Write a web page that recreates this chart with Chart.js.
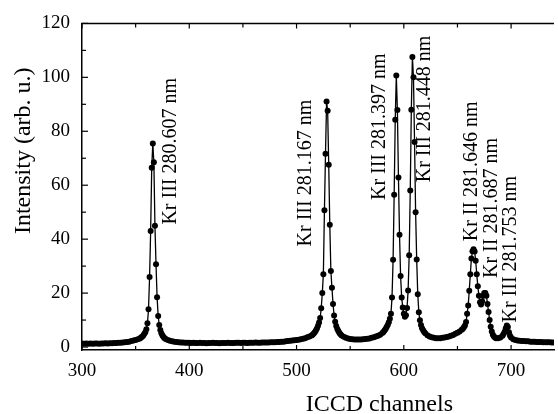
<!DOCTYPE html>
<html><head><meta charset="utf-8">
<script src="https://cdn.jsdelivr.net/npm/chart.js@4.4.1/dist/chart.umd.min.js"></script>
<style>html,body{margin:0;padding:0;background:#fff;}canvas{display:block;}</style>
</head><body>
<canvas id="c" width="558" height="414"></canvas>
<script>
const channels = [
  300,302,304,306,308,310,312,314,316,318,
  320,322,324,326,328,330,332,334,336,338,
  340,342,344,346,348,350,352,354,355,356,
  357,358,359,360,361,362,363,364,365,366,
  367,368,369,370,371,372,373,374,375,376,
  377,378,380,382,384,386,388,390,392,394,
  396,398,400,402,404,406,408,410,412,414,
  416,418,420,422,424,426,428,430,432,434,
  436,438,440,442,444,446,448,450,452,454,
  456,458,460,462,464,466,468,470,472,474,
  476,478,480,482,484,486,488,490,492,494,
  496,498,500,502,504,506,508,510,512,514,
  515,516,517,518,519,520,521,522,523,524,
  525,526,527,528,529,530,531,532,533,534,
  535,536,537,538,539,540,541,542,544,546,
  548,550,552,554,556,558,560,562,564,566,
  568,570,572,574,576,578,580,581,582,583,
  584,585,586,587,588,589,590,591,592,593,
  594,595,596,597,598,599,600,601,602,603,
  604,605,606,607,608,609,610,611,612,613,
  614,615,616,617,618,619,620,622,624,626,
  628,630,632,634,636,638,640,642,644,646,
  648,650,652,654,655,656,657,658,659,660,
  661,662,663,664,665,666,667,668,669,670,
  671,672,673,674,675,676,677,678,679,680,
  681,682,683,684,685,686,688,690,692,693,
  694,695,696,697,698,699,700,702,704,706,
  708,710,712,714,716,718,720,722,724,726,
  728,730,732,734,736,738,740
];
const intensity = [
  1.3,1.2,1.3,1.2,1.3,1.2,1.3,1.3,1.2,1.3,
  1.3,1.4,1.3,1.4,1.4,1.5,1.5,1.6,1.6,1.7,
  1.8,1.9,2.0,2.2,2.4,2.6,2.9,3.2,3.5,3.8,
  4.2,4.8,5.5,6.6,8.8,14,26,43,66.5,75.5,
  68.5,45,30.7,18.5,11.5,8.2,6.3,5.1,4.3,3.7,
  3.3,3.0,2.6,2.3,2.1,2.0,1.9,1.8,1.7,1.7,
  1.6,1.6,1.6,1.5,1.6,1.5,1.5,1.6,1.5,1.5,
  1.4,1.5,1.5,1.6,1.5,1.5,1.4,1.5,1.5,1.5,
  1.6,1.5,1.5,1.5,1.6,1.6,1.5,1.6,1.6,1.5,
  1.6,1.6,1.6,1.7,1.6,1.6,1.7,1.7,1.7,1.7,
  1.8,1.8,1.8,1.9,1.9,2.0,2.0,2.1,2.2,2.3,
  2.4,2.5,2.6,2.7,2.9,3.1,3.3,3.6,3.9,4.3,
  4.6,5.0,5.5,6.1,6.9,7.9,9.1,10.8,14.4,20,
  27,50.7,71.7,91,87.6,67.6,45.3,28.2,22,16,
  11.7,9.4,7.8,6.7,5.9,5.2,4.7,4.3,3.8,3.4,
  3.2,3.0,2.9,2.8,2.8,2.8,2.8,2.9,3.0,3.1,
  3.2,3.4,3.6,3.9,4.2,4.6,5.2,5.6,6.1,6.7,
  7.4,8.2,9.2,10.5,12.3,18.4,32.4,56.5,84.3,100.7,
  87.9,62.9,41.6,26.3,18.4,14.7,12.3,11.2,11.8,14.5,
  21,34,58,88,107.5,100,76,50,32.5,19.6,
  12.9,9.9,8.2,7.0,6.2,5.6,5.1,4.4,3.9,3.6,
  3.4,3.3,3.3,3.3,3.4,3.5,3.7,3.9,4.2,4.5,
  4.9,5.3,5.8,6.4,6.8,7.3,8.0,9.3,12.3,15.4,
  20.9,27,32.8,35.5,36.3,35.4,32,27,22.5,19,
  16.6,15.8,17,19,20,20,19,16,13,10,
  7.5,5.8,4.6,3.9,3.5,3.3,3.3,3.5,4.2,4.8,
  5.7,7.0,8.0,7.4,5.5,4.2,3.5,2.9,2.6,2.4,
  2.3,2.2,2.2,2.1,2.1,2.0,2.0,2.0,1.9,1.9,
  1.9,1.8,1.8,1.8,1.8,1.7,1.7
];
const xTickValues = [300,400,500,600,700];
const xMinorTicks = [350,450,550,650];
const yTickValues = [0,20,40,60,80,100,120];
const yMinorTicks = [10,30,50,70,90,110];
const lineLabels = [
  "Kr III 280.607 nm",
  "Kr III 281.167 nm",
  "Kr III 281.397 nm",
  "Kr III 281.448 nm",
  "Kr II 281.646 nm",
  "Kr II 281.687 nm",
  "Kr III 281.753 nm"
];
const xTitle = "ICCD channels";
const yTitle = "Intensity (arb. u.)";

// label anchor positions (in axis units), kept separate from the data
const labelAnchorX = [382.4, 509, 577.2, 619.7, 663.1, 681.6, 700];
const labelAnchorY = [45.4, 37.3, 54.5, 61.1, 39.2, 25.6, 9.1];

const SERIF = "'Liberation Serif', 'DejaVu Serif', serif";

const points = channels.map((c, i) => ({x: c, y: intensity[i]}));

const framePlugin = {
  id: 'frame',
  afterDraw(chart) {
    const {ctx, chartArea: a, scales} = chart;
    const xs = scales.x, ys = scales.y;
    ctx.save();
    ctx.strokeStyle = '#000';
    ctx.lineWidth = 1.5;
    ctx.beginPath();
    ctx.moveTo(a.left - 0.75, a.top);
    ctx.lineTo(a.right, a.top);
    ctx.stroke();
    ctx.lineWidth = 1.2;
    const xt = (v, len) => {
      const p = xs.getPixelForValue(v);
      ctx.beginPath();
      ctx.moveTo(p, a.bottom); ctx.lineTo(p, a.bottom - len);
      ctx.moveTo(p, a.top); ctx.lineTo(p, a.top + len);
      ctx.stroke();
    };
    const yt = (v, len) => {
      const p = ys.getPixelForValue(v);
      ctx.beginPath();
      ctx.moveTo(a.left, p); ctx.lineTo(a.left + len, p);
      ctx.stroke();
    };
    xTickValues.forEach(v => xt(v, 5));
    xMinorTicks.forEach(v => xt(v, 4));
    yTickValues.forEach(v => yt(v, 6));
    yMinorTicks.forEach(v => yt(v, 4));

    // axis titles
    ctx.fillStyle = '#000';
    ctx.font = "24px " + SERIF;
    ctx.textAlign = 'center';
    ctx.textBaseline = 'alphabetic';
    ctx.fillText(xTitle, a.left + (a.right - a.left) * 0.63, 411);
    ctx.save();
    ctx.translate(30, a.top + (a.bottom - a.top) * 0.39);
    ctx.rotate(-Math.PI / 2);
    ctx.fillText(yTitle, 0, 0);
    ctx.restore();

    // line labels
    ctx.font = "20px " + SERIF;
    ctx.textAlign = 'left';
    ctx.textBaseline = 'middle';
    lineLabels.forEach((t, i) => {
      const px = xs.getPixelForValue(labelAnchorX[i]);
      const py = ys.getPixelForValue(labelAnchorY[i]);
      ctx.save();
      ctx.translate(px, py);
      ctx.rotate(-Math.PI / 2);
      ctx.fillText(t, 0, 0);
      ctx.restore();
    });
    ctx.restore();
  }
};

new Chart(document.getElementById('c'), {
  type: 'line',
  data: {
    datasets: [{
      data: points,
      borderColor: '#000',
      borderWidth: 1.3,
      pointRadius: 3,
      pointBackgroundColor: '#000',
      pointBorderColor: '#000',
      pointBorderWidth: 0,
      tension: 0,
      fill: false
    }]
  },
  options: {
    responsive: false,
    devicePixelRatio: 1,
    animation: false,
    layout: {padding: {top: 19, right: 0, left: 0, bottom: 0}},
    plugins: {legend: {display: false}, tooltip: {enabled: false}},
    scales: {
      x: {
        type: 'linear',
        min: 300, max: 740,
        afterBuildTicks: s => { s.ticks = xTickValues.map(v => ({value: v})); },
        afterFit: s => { s.height = 64; },
        grid: {display: false, drawTicks: false},
        border: {display: true, color: '#000', width: 1.5},
        ticks: {color: '#000', font: {family: SERIF, size: 19}, padding: 10, maxRotation: 0, autoSkip: false}
      },
      y: {
        type: 'linear',
        min: -1.1, max: 120,
        afterBuildTicks: s => { s.ticks = yTickValues.map(v => ({value: v})); },
        afterFit: s => { s.width = 82; },
        grid: {display: false, drawTicks: false},
        border: {display: true, color: '#000', width: 1.5},
        ticks: {color: '#000', font: {family: SERIF, size: 19}, padding: 12}
      }
    }
  },
  plugins: [framePlugin]
});
</script>
</body></html>
